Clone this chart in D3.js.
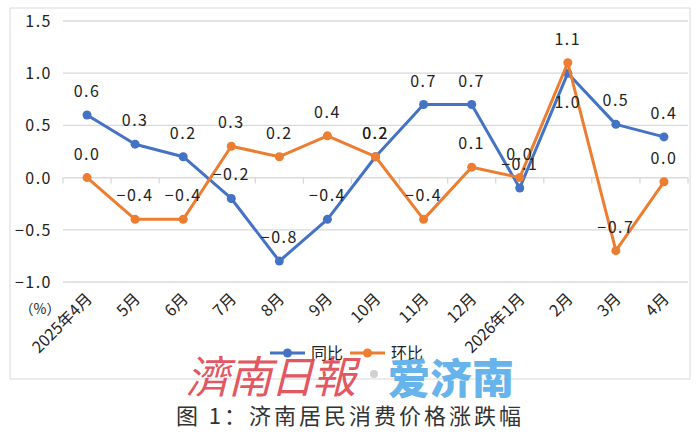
<!DOCTYPE html>
<html>
<head>
<meta charset="utf-8">
<script src="https://cdn.jsdelivr.net/npm/d3@7"></script>
<style>
  body { margin: 0; background: #fff; }
  svg { display: block; font-family: "Noto Sans CJK SC", "Noto Sans", sans-serif; }
</style>
</head>
<body>
<div id="chart"></div>
<script>
// months along the x axis
const months = ["2025年4月", "5月", "6月", "7月", "8月", "9月", "10月", "11月", "12月", "2026年1月", "2月", "3月", "4月"];
// 同比 (year on year), %
const yoy = [0.6, 0.32, 0.2, -0.2, -0.8, -0.4, 0.2, 0.7, 0.7, -0.1, 1.0, 0.51, 0.39];
// 环比 (month on month), %
const mom = [0.0, -0.4, -0.4, 0.3, 0.2, 0.4, 0.2, -0.4, 0.1, 0.0, 1.1, -0.7, -0.04];
const yTicks = [-1.0, -0.5, 0.0, 0.5, 1.0, 1.5];
const seriesNames = ["同比", "环比"];

const W = 700, H = 438;
const blue = "#4472C4", orange = "#ED7D31";

const svg = d3.select("#chart").append("svg")
  .attr("width", W)
  .attr("height", H);

// outer frame of the chart
svg.append("rect")
  .attr("x", 10).attr("y", 8)
  .attr("width", 680).attr("height", 371)
  .attr("fill", "none")
  .attr("stroke", "#d9d9d9");

const x = d3.scaleBand().domain(months).range([63, 688]).padding(0);
const y = d3.scaleLinear().domain([-1, 1.5]).range([282, 21]);
const fmt = v => Math.abs(v) < 0.05 ? "0.0" : d3.format(".1f")(v);

// gridlines
svg.append("g")
  .selectAll("line")
  .data(yTicks)
  .join("line")
    .attr("x1", 63).attr("x2", 688)
    .attr("y1", d => y(d)).attr("y2", d => y(d))
    .attr("stroke", "#d9d9d9")
    .attr("stroke-width", 1.3);

// y labels
svg.append("g")
  .selectAll("text")
  .data(yTicks)
  .join("text")
    .attr("x", 52)
    .attr("y", d => y(d) + 6)
    .attr("text-anchor", "end")
    .attr("font-size", 16)
    .attr("letter-spacing", 1.5)
    .attr("fill", "#222")
    .text(d => d3.format(".1f")(d));

svg.append("text")
  .attr("x", 40).attr("y", 314)
  .attr("text-anchor", "middle")
  .attr("font-size", 14)
  .attr("fill", "#222")
  .text("（%）");

// zero axis with ticks between categories
const xAxis = svg.append("g")
  .attr("transform", "translate(0," + y(0) + ")");
xAxis.append("line")
  .attr("x1", 63).attr("x2", 688)
  .attr("stroke", "#d9d9d9").attr("stroke-width", 1.3);
xAxis.selectAll(".tk")
  .data(months.concat(["_end"]))
  .join("line")
    .attr("class", "tk")
    .attr("x1", (d, i) => i < months.length ? x(d) : 688)
    .attr("x2", (d, i) => i < months.length ? x(d) : 688)
    .attr("y1", 0).attr("y2", 6)
    .attr("stroke", "#d9d9d9").attr("stroke-width", 1.3);

// month labels, rotated
svg.append("g")
  .selectAll("text")
  .data(months)
  .join("text")
    .attr("transform", d => "translate(" + (x(d) + x.bandwidth() / 2 + 6) + ",300)rotate(-45)")
    .attr("text-anchor", "end")
    .attr("font-size", 16)
    .attr("fill", "#222")
    .text(d => d);

const line = d3.line()
  .x((d, i) => x(months[i]) + x.bandwidth() / 2)
  .y(d => y(d));

const series = [
  { name: seriesNames[0], values: yoy, color: blue },
  { name: seriesNames[1], values: mom, color: orange }
];

series.forEach(s => {
  svg.append("path")
    .datum(s.values)
    .attr("fill", "none")
    .attr("stroke", s.color)
    .attr("stroke-width", 3)
    .attr("stroke-linejoin", "round")
    .attr("d", line);

  svg.append("g")
    .selectAll("circle")
    .data(s.values)
    .join("circle")
      .attr("cx", (d, i) => x(months[i]) + x.bandwidth() / 2)
      .attr("cy", d => y(d))
      .attr("r", 4.5)
      .attr("fill", s.color);
});

// data labels
series.forEach(s => {
  svg.append("g")
    .selectAll("text")
    .data(s.values)
    .join("text")
      .attr("x", (d, i) => x(months[i]) + x.bandwidth() / 2)
      .attr("y", (d, i) => (s.name === "同比" && months[i] === "2月") ? y(d) + 35 : y(d) - 18)
      .attr("text-anchor", "middle")
      .attr("font-size", 16)
      .attr("letter-spacing", 1.5)
      .attr("fill", "#222")
      .text(d => fmt(d));
});

// legend
const legend = svg.append("g").attr("transform", "translate(270,353)");
series.forEach((s, i) => {
  const g = legend.append("g").attr("transform", "translate(" + (i * 80) + ",0)");
  g.append("line").attr("x1", 0).attr("x2", 35)
    .attr("stroke", s.color).attr("stroke-width", 3);
  g.append("circle").attr("cx", 17.5).attr("r", 4.5).attr("fill", s.color);
  g.append("text").attr("x", 41).attr("y", 6)
    .attr("font-size", 16).attr("fill", "#222")
    .text(s.name);
});

// newspaper watermark
svg.append("text")
  .attr("x", 186).attr("y", 393)
  .attr("font-family", "'Noto Sans CJK TC', sans-serif")
  .attr("font-size", 44)
  .attr("font-style", "italic")
  .attr("letter-spacing", -2)
  .attr("fill", "#e0404c")
  .attr("opacity", 0.88)
  .text("濟南日報");
svg.append("circle")
  .attr("cx", 374).attr("cy", 374).attr("r", 4)
  .attr("fill", "#d0d0d0");
svg.append("text")
  .attr("x", 388).attr("y", 394)
  .attr("font-size", 42)
  .attr("font-weight", 900)
  .attr("fill", "#5aaeea")
  .attr("opacity", 0.92)
  .text("爱济南");

// caption
svg.append("text")
  .attr("x", 350).attr("y", 424)
  .attr("text-anchor", "middle")
  .attr("font-size", 22)
  .attr("letter-spacing", 3)
  .attr("fill", "#333")
  .text("图 1：济南居民消费价格涨跌幅");
</script>
</body>
</html>
